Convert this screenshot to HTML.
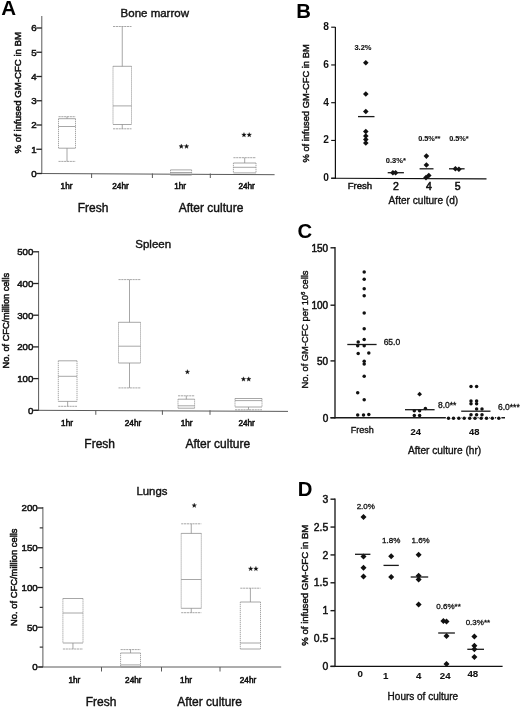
<!DOCTYPE html>
<html><head><meta charset="utf-8"><title>Figure</title>
<style>
html,body{margin:0;padding:0;background:#fff;}
body{width:520px;height:709px;overflow:hidden;font-family:'Liberation Sans', sans-serif;}
svg{display:block;filter:grayscale(1);}
svg text{font-family:"Liberation Sans", sans-serif;}
</style></head>
<body>
<svg width="520" height="709" viewBox="0 0 520 709">
<rect width="520" height="709" fill="#ffffff"/>
<text x="1.3" y="14.8" font-size="20.5" font-weight="bold" text-anchor="start" fill="#000">A</text>
<text x="296.3" y="17.6" font-size="20.3" font-weight="bold" text-anchor="start" fill="#000">B</text>
<text x="297.6" y="237.7" font-size="20.3" font-weight="bold" text-anchor="start" fill="#000">C</text>
<text x="297.8" y="495.8" font-size="20.3" font-weight="bold" text-anchor="start" fill="#000">D</text>
<text x="154.8" y="17.0" font-size="11.5" font-weight="normal" text-anchor="middle" fill="#111" stroke="#111" stroke-width="0.4">Bone marrow</text>
<line x1="41.8" y1="16" x2="41.8" y2="173.5" stroke="#5a5a5a" stroke-width="1"/>
<line x1="37.8" y1="173.5" x2="274.6" y2="174.7" stroke="#5a5a5a" stroke-width="1"/>
<line x1="36.3" y1="173.5" x2="41.8" y2="173.5" stroke="#222" stroke-width="1.3"/>
<text x="36.599999999999994" y="176.9" font-size="9.7" font-weight="normal" text-anchor="end" fill="#111" stroke="#111" stroke-width="0.5">0</text>
<line x1="36.3" y1="149.25" x2="41.8" y2="149.25" stroke="#222" stroke-width="1.3"/>
<text x="36.599999999999994" y="152.65" font-size="9.7" font-weight="normal" text-anchor="end" fill="#111" stroke="#111" stroke-width="0.5">1</text>
<line x1="36.3" y1="125.0" x2="41.8" y2="125.0" stroke="#222" stroke-width="1.3"/>
<text x="36.599999999999994" y="128.4" font-size="9.7" font-weight="normal" text-anchor="end" fill="#111" stroke="#111" stroke-width="0.5">2</text>
<line x1="36.3" y1="100.75" x2="41.8" y2="100.75" stroke="#222" stroke-width="1.3"/>
<text x="36.599999999999994" y="104.15" font-size="9.7" font-weight="normal" text-anchor="end" fill="#111" stroke="#111" stroke-width="0.5">3</text>
<line x1="36.3" y1="76.5" x2="41.8" y2="76.5" stroke="#222" stroke-width="1.3"/>
<text x="36.599999999999994" y="79.9" font-size="9.7" font-weight="normal" text-anchor="end" fill="#111" stroke="#111" stroke-width="0.5">4</text>
<line x1="36.3" y1="52.25" x2="41.8" y2="52.25" stroke="#222" stroke-width="1.3"/>
<text x="36.599999999999994" y="55.65" font-size="9.7" font-weight="normal" text-anchor="end" fill="#111" stroke="#111" stroke-width="0.5">5</text>
<line x1="36.3" y1="28.0" x2="41.8" y2="28.0" stroke="#222" stroke-width="1.3"/>
<text x="36.599999999999994" y="31.4" font-size="9.7" font-weight="normal" text-anchor="end" fill="#111" stroke="#111" stroke-width="0.5">6</text>
<line x1="91.6" y1="173.5" x2="91.6" y2="178.0" stroke="#5a5a5a" stroke-width="1"/>
<line x1="152.4" y1="173.5" x2="152.4" y2="178.0" stroke="#5a5a5a" stroke-width="1"/>
<line x1="210.3" y1="173.5" x2="210.3" y2="178.0" stroke="#5a5a5a" stroke-width="1"/>
<text x="21.2" y="92.7" font-size="9.65" font-weight="normal" text-anchor="middle" fill="#111" stroke="#111" stroke-width="0.5" transform="rotate(-90 21.2 92.7)">% of infused GM-CFC in BM</text>
<line x1="58.5" y1="118.7" x2="75.5" y2="118.7" stroke="#8a8a8a" stroke-width="0.75"/>
<line x1="58.5" y1="148.2" x2="75.5" y2="148.2" stroke="#8a8a8a" stroke-width="0.75"/>
<line x1="58.5" y1="118.7" x2="58.5" y2="148.2" stroke="#8a8a8a" stroke-width="0.75" stroke-dasharray="1.3 0.7"/>
<line x1="75.5" y1="118.7" x2="75.5" y2="148.2" stroke="#8a8a8a" stroke-width="0.75" stroke-dasharray="1.3 0.7"/>
<line x1="58.5" y1="126.5" x2="75.5" y2="126.5" stroke="#8a8a8a" stroke-width="0.75"/>
<line x1="67.0" y1="116.7" x2="67.0" y2="118.7" stroke="#8a8a8a" stroke-width="0.75"/>
<line x1="58.5" y1="116.7" x2="75.5" y2="116.7" stroke="#8a8a8a" stroke-width="0.75" stroke-dasharray="2.2 0.6"/>
<line x1="67.0" y1="148.2" x2="67.0" y2="161.4" stroke="#8a8a8a" stroke-width="0.75"/>
<line x1="58.5" y1="161.4" x2="75.5" y2="161.4" stroke="#8a8a8a" stroke-width="0.75" stroke-dasharray="2.2 0.6"/>
<line x1="113" y1="66.3" x2="131.5" y2="66.3" stroke="#8a8a8a" stroke-width="0.75"/>
<line x1="113" y1="124.5" x2="131.5" y2="124.5" stroke="#8a8a8a" stroke-width="0.75"/>
<line x1="113" y1="66.3" x2="113" y2="124.5" stroke="#8a8a8a" stroke-width="0.75" stroke-dasharray="1.3 0.7"/>
<line x1="131.5" y1="66.3" x2="131.5" y2="124.5" stroke="#8a8a8a" stroke-width="0.75" stroke-dasharray="1.3 0.7"/>
<line x1="113" y1="105.9" x2="131.5" y2="105.9" stroke="#8a8a8a" stroke-width="0.75"/>
<line x1="122.25" y1="26.5" x2="122.25" y2="66.3" stroke="#8a8a8a" stroke-width="0.75"/>
<line x1="113" y1="26.5" x2="131.5" y2="26.5" stroke="#8a8a8a" stroke-width="0.75" stroke-dasharray="2.2 0.6"/>
<line x1="122.25" y1="124.5" x2="122.25" y2="128.8" stroke="#8a8a8a" stroke-width="0.75"/>
<line x1="113" y1="128.8" x2="131.5" y2="128.8" stroke="#8a8a8a" stroke-width="0.75" stroke-dasharray="2.2 0.6"/>
<line x1="170.5" y1="169.9" x2="191.6" y2="169.9" stroke="#8a8a8a" stroke-width="0.75"/>
<line x1="170.5" y1="175.1" x2="191.6" y2="175.1" stroke="#8a8a8a" stroke-width="0.75"/>
<line x1="170.5" y1="169.9" x2="170.5" y2="175.1" stroke="#8a8a8a" stroke-width="0.75" stroke-dasharray="1.3 0.7"/>
<line x1="191.6" y1="169.9" x2="191.6" y2="175.1" stroke="#8a8a8a" stroke-width="0.75" stroke-dasharray="1.3 0.7"/>
<line x1="170.5" y1="172.5" x2="191.6" y2="172.5" stroke="#8a8a8a" stroke-width="0.75"/>
<line x1="233.4" y1="163.0" x2="256.0" y2="163.0" stroke="#8a8a8a" stroke-width="0.75"/>
<line x1="233.4" y1="172.9" x2="256.0" y2="172.9" stroke="#8a8a8a" stroke-width="0.75"/>
<line x1="233.4" y1="163.0" x2="233.4" y2="172.9" stroke="#8a8a8a" stroke-width="0.75" stroke-dasharray="1.3 0.7"/>
<line x1="256.0" y1="163.0" x2="256.0" y2="172.9" stroke="#8a8a8a" stroke-width="0.75" stroke-dasharray="1.3 0.7"/>
<line x1="233.4" y1="167.3" x2="256.0" y2="167.3" stroke="#8a8a8a" stroke-width="0.75"/>
<line x1="244.7" y1="157.7" x2="244.7" y2="163.0" stroke="#8a8a8a" stroke-width="0.75"/>
<line x1="233.4" y1="157.7" x2="256.0" y2="157.7" stroke="#8a8a8a" stroke-width="0.75" stroke-dasharray="2.2 0.6"/>
<polygon points="181.28,143.95 181.89,145.55 183.61,145.64 182.27,146.72 182.72,148.38 181.28,147.45 179.83,148.38 180.28,146.72 178.94,145.64 180.66,145.55" fill="#111" stroke="#111" stroke-width="0.25" stroke-linejoin="round"/>
<polygon points="186.53,143.95 187.14,145.55 188.86,145.64 187.52,146.72 187.97,148.38 186.53,147.45 185.08,148.38 185.53,146.72 184.19,145.64 185.91,145.55" fill="#111" stroke="#111" stroke-width="0.25" stroke-linejoin="round"/>
<polygon points="243.97,132.45 244.59,134.05 246.31,134.14 244.97,135.22 245.42,136.88 243.97,135.95 242.53,136.88 242.98,135.22 241.64,134.14 243.36,134.05" fill="#111" stroke="#111" stroke-width="0.25" stroke-linejoin="round"/>
<polygon points="249.22,132.45 249.84,134.05 251.56,134.14 250.22,135.22 250.67,136.88 249.22,135.95 247.78,136.88 248.23,135.22 246.89,134.14 248.61,134.05" fill="#111" stroke="#111" stroke-width="0.25" stroke-linejoin="round"/>
<text x="66.5" y="189.0" font-size="8.2" font-weight="normal" text-anchor="middle" fill="#111" stroke="#111" stroke-width="0.55">1hr</text>
<text x="120.5" y="189.0" font-size="8.2" font-weight="normal" text-anchor="middle" fill="#111" stroke="#111" stroke-width="0.55">24hr</text>
<text x="180.2" y="189.0" font-size="8.2" font-weight="normal" text-anchor="middle" fill="#111" stroke="#111" stroke-width="0.55">1hr</text>
<text x="246.6" y="189.0" font-size="8.2" font-weight="normal" text-anchor="middle" fill="#111" stroke="#111" stroke-width="0.55">24hr</text>
<text x="93" y="211.5" font-size="12" font-weight="normal" text-anchor="middle" fill="#111" stroke="#111" stroke-width="0.4">Fresh</text>
<text x="211" y="212" font-size="12" font-weight="normal" text-anchor="middle" fill="#111" stroke="#111" stroke-width="0.4">After culture</text>
<text x="153.2" y="248.4" font-size="11.5" font-weight="normal" text-anchor="middle" fill="#111" stroke="#111" stroke-width="0.4">Spleen</text>
<line x1="38.6" y1="251" x2="38.6" y2="410.3" stroke="#5a5a5a" stroke-width="1"/>
<line x1="34.6" y1="410.3" x2="288" y2="411.40000000000003" stroke="#5a5a5a" stroke-width="1"/>
<line x1="33.1" y1="410.3" x2="38.6" y2="410.3" stroke="#222" stroke-width="1.3"/>
<text x="33.4" y="413.7" font-size="9.7" font-weight="normal" text-anchor="end" fill="#111" stroke="#111" stroke-width="0.5">0</text>
<line x1="33.1" y1="378.6" x2="38.6" y2="378.6" stroke="#222" stroke-width="1.3"/>
<text x="33.4" y="382.0" font-size="9.7" font-weight="normal" text-anchor="end" fill="#111" stroke="#111" stroke-width="0.5">100</text>
<line x1="33.1" y1="346.90000000000003" x2="38.6" y2="346.90000000000003" stroke="#222" stroke-width="1.3"/>
<text x="33.4" y="350.3" font-size="9.7" font-weight="normal" text-anchor="end" fill="#111" stroke="#111" stroke-width="0.5">200</text>
<line x1="33.1" y1="315.20000000000005" x2="38.6" y2="315.20000000000005" stroke="#222" stroke-width="1.3"/>
<text x="33.4" y="318.6" font-size="9.7" font-weight="normal" text-anchor="end" fill="#111" stroke="#111" stroke-width="0.5">300</text>
<line x1="33.1" y1="283.5" x2="38.6" y2="283.5" stroke="#222" stroke-width="1.3"/>
<text x="33.4" y="286.9" font-size="9.7" font-weight="normal" text-anchor="end" fill="#111" stroke="#111" stroke-width="0.5">400</text>
<line x1="33.1" y1="251.8" x2="38.6" y2="251.8" stroke="#222" stroke-width="1.3"/>
<text x="33.4" y="255.20000000000002" font-size="9.7" font-weight="normal" text-anchor="end" fill="#111" stroke="#111" stroke-width="0.5">500</text>
<line x1="95.8" y1="410.3" x2="95.8" y2="414.8" stroke="#5a5a5a" stroke-width="1"/>
<line x1="162.4" y1="410.3" x2="162.4" y2="414.8" stroke="#5a5a5a" stroke-width="1"/>
<line x1="210" y1="410.3" x2="210" y2="414.8" stroke="#5a5a5a" stroke-width="1"/>
<text x="9.2" y="320.7" font-size="9.2" font-weight="normal" text-anchor="middle" fill="#111" stroke="#111" stroke-width="0.5" transform="rotate(-90 9.2 320.7)">No. of CFC/million cells</text>
<line x1="58.3" y1="360.8" x2="77" y2="360.8" stroke="#8a8a8a" stroke-width="0.75"/>
<line x1="58.3" y1="401.4" x2="77" y2="401.4" stroke="#8a8a8a" stroke-width="0.75"/>
<line x1="58.3" y1="360.8" x2="58.3" y2="401.4" stroke="#8a8a8a" stroke-width="0.75" stroke-dasharray="1.3 0.7"/>
<line x1="77" y1="360.8" x2="77" y2="401.4" stroke="#8a8a8a" stroke-width="0.75" stroke-dasharray="1.3 0.7"/>
<line x1="58.3" y1="376.3" x2="77" y2="376.3" stroke="#8a8a8a" stroke-width="0.75"/>
<line x1="67.65" y1="401.4" x2="67.65" y2="406.3" stroke="#8a8a8a" stroke-width="0.75"/>
<line x1="58.3" y1="406.3" x2="77" y2="406.3" stroke="#8a8a8a" stroke-width="0.75" stroke-dasharray="2.2 0.6"/>
<line x1="118.5" y1="322.3" x2="140.5" y2="322.3" stroke="#8a8a8a" stroke-width="0.75"/>
<line x1="118.5" y1="363" x2="140.5" y2="363" stroke="#8a8a8a" stroke-width="0.75"/>
<line x1="118.5" y1="322.3" x2="118.5" y2="363" stroke="#8a8a8a" stroke-width="0.75" stroke-dasharray="1.3 0.7"/>
<line x1="140.5" y1="322.3" x2="140.5" y2="363" stroke="#8a8a8a" stroke-width="0.75" stroke-dasharray="1.3 0.7"/>
<line x1="118.5" y1="346.2" x2="140.5" y2="346.2" stroke="#8a8a8a" stroke-width="0.75"/>
<line x1="129.5" y1="279.6" x2="129.5" y2="322.3" stroke="#8a8a8a" stroke-width="0.75"/>
<line x1="118.5" y1="279.6" x2="140.5" y2="279.6" stroke="#8a8a8a" stroke-width="0.75" stroke-dasharray="2.2 0.6"/>
<line x1="129.5" y1="363" x2="129.5" y2="387.9" stroke="#8a8a8a" stroke-width="0.75"/>
<line x1="118.5" y1="387.9" x2="140.5" y2="387.9" stroke="#8a8a8a" stroke-width="0.75" stroke-dasharray="2.2 0.6"/>
<line x1="178" y1="399.2" x2="194.6" y2="399.2" stroke="#8a8a8a" stroke-width="0.75"/>
<line x1="178" y1="408.2" x2="194.6" y2="408.2" stroke="#8a8a8a" stroke-width="0.75"/>
<line x1="178" y1="399.2" x2="178" y2="408.2" stroke="#8a8a8a" stroke-width="0.75" stroke-dasharray="1.3 0.7"/>
<line x1="194.6" y1="399.2" x2="194.6" y2="408.2" stroke="#8a8a8a" stroke-width="0.75" stroke-dasharray="1.3 0.7"/>
<line x1="178" y1="405.8" x2="194.6" y2="405.8" stroke="#8a8a8a" stroke-width="0.75"/>
<line x1="186.3" y1="395.8" x2="186.3" y2="399.2" stroke="#8a8a8a" stroke-width="0.75"/>
<line x1="178" y1="395.8" x2="194.6" y2="395.8" stroke="#8a8a8a" stroke-width="0.75" stroke-dasharray="2.2 0.6"/>
<line x1="235" y1="398.5" x2="262" y2="398.5" stroke="#8a8a8a" stroke-width="0.75"/>
<line x1="235" y1="407" x2="262" y2="407" stroke="#8a8a8a" stroke-width="0.75"/>
<line x1="235" y1="398.5" x2="235" y2="407" stroke="#8a8a8a" stroke-width="0.75" stroke-dasharray="1.3 0.7"/>
<line x1="262" y1="398.5" x2="262" y2="407" stroke="#8a8a8a" stroke-width="0.75" stroke-dasharray="1.3 0.7"/>
<line x1="235" y1="400.6" x2="262" y2="400.6" stroke="#8a8a8a" stroke-width="0.75"/>
<line x1="248.5" y1="407" x2="248.5" y2="409.8" stroke="#8a8a8a" stroke-width="0.75"/>
<line x1="235" y1="409.8" x2="262" y2="409.8" stroke="#8a8a8a" stroke-width="0.75" stroke-dasharray="2.2 0.6"/>
<polygon points="187.40,369.55 188.02,371.15 189.73,371.24 188.40,372.32 188.84,373.98 187.40,373.05 185.96,373.98 186.40,372.32 185.07,371.24 186.78,371.15" fill="#111" stroke="#111" stroke-width="0.25" stroke-linejoin="round"/>
<polygon points="243.47,376.75 244.09,378.35 245.81,378.44 244.47,379.52 244.92,381.18 243.47,380.25 242.03,381.18 242.48,379.52 241.14,378.44 242.86,378.35" fill="#111" stroke="#111" stroke-width="0.25" stroke-linejoin="round"/>
<polygon points="248.72,376.75 249.34,378.35 251.06,378.44 249.72,379.52 250.17,381.18 248.72,380.25 247.28,381.18 247.73,379.52 246.39,378.44 248.11,378.35" fill="#111" stroke="#111" stroke-width="0.25" stroke-linejoin="round"/>
<text x="67" y="425.6" font-size="8.2" font-weight="normal" text-anchor="middle" fill="#111" stroke="#111" stroke-width="0.55">1hr</text>
<text x="133" y="425.6" font-size="8.2" font-weight="normal" text-anchor="middle" fill="#111" stroke="#111" stroke-width="0.55">24hr</text>
<text x="186.6" y="425.6" font-size="8.2" font-weight="normal" text-anchor="middle" fill="#111" stroke="#111" stroke-width="0.55">1hr</text>
<text x="246.6" y="425.6" font-size="8.2" font-weight="normal" text-anchor="middle" fill="#111" stroke="#111" stroke-width="0.55">24hr</text>
<text x="99.7" y="448" font-size="12" font-weight="normal" text-anchor="middle" fill="#111" stroke="#111" stroke-width="0.4">Fresh</text>
<text x="217.8" y="448.2" font-size="12" font-weight="normal" text-anchor="middle" fill="#111" stroke="#111" stroke-width="0.4">After culture</text>
<text x="151.9" y="494.9" font-size="11.4" font-weight="normal" text-anchor="middle" fill="#111" stroke="#111" stroke-width="0.4">Lungs</text>
<line x1="42.9" y1="507" x2="42.9" y2="667" stroke="#5a5a5a" stroke-width="1"/>
<line x1="38.9" y1="667" x2="281.2" y2="667" stroke="#5a5a5a" stroke-width="1"/>
<line x1="37.4" y1="667.0" x2="42.9" y2="667.0" stroke="#222" stroke-width="1.3"/>
<text x="37.699999999999996" y="670.4" font-size="9.7" font-weight="normal" text-anchor="end" fill="#111" stroke="#111" stroke-width="0.5">0</text>
<line x1="37.4" y1="627.25" x2="42.9" y2="627.25" stroke="#222" stroke-width="1.3"/>
<text x="37.699999999999996" y="630.65" font-size="9.7" font-weight="normal" text-anchor="end" fill="#111" stroke="#111" stroke-width="0.5">50</text>
<line x1="37.4" y1="587.5" x2="42.9" y2="587.5" stroke="#222" stroke-width="1.3"/>
<text x="37.699999999999996" y="590.9" font-size="9.7" font-weight="normal" text-anchor="end" fill="#111" stroke="#111" stroke-width="0.5">100</text>
<line x1="37.4" y1="547.75" x2="42.9" y2="547.75" stroke="#222" stroke-width="1.3"/>
<text x="37.699999999999996" y="551.15" font-size="9.7" font-weight="normal" text-anchor="end" fill="#111" stroke="#111" stroke-width="0.5">150</text>
<line x1="37.4" y1="508.0" x2="42.9" y2="508.0" stroke="#222" stroke-width="1.3"/>
<text x="37.699999999999996" y="511.4" font-size="9.7" font-weight="normal" text-anchor="end" fill="#111" stroke="#111" stroke-width="0.5">200</text>
<line x1="39.699999999999996" y1="647.125" x2="42.9" y2="647.125" stroke="#333" stroke-width="1.2"/>
<line x1="39.699999999999996" y1="607.375" x2="42.9" y2="607.375" stroke="#333" stroke-width="1.2"/>
<line x1="39.699999999999996" y1="567.625" x2="42.9" y2="567.625" stroke="#333" stroke-width="1.2"/>
<line x1="39.699999999999996" y1="527.875" x2="42.9" y2="527.875" stroke="#333" stroke-width="1.2"/>
<line x1="101.5" y1="667" x2="101.5" y2="671.5" stroke="#5a5a5a" stroke-width="1"/>
<line x1="161.5" y1="667" x2="161.5" y2="671.5" stroke="#5a5a5a" stroke-width="1"/>
<line x1="220" y1="667" x2="220" y2="671.5" stroke="#5a5a5a" stroke-width="1"/>
<text x="17.4" y="577.2" font-size="9.4" font-weight="normal" text-anchor="middle" fill="#111" stroke="#111" stroke-width="0.5" transform="rotate(-90 17.4 577.2)">No. of CFC/million cells</text>
<line x1="62.9" y1="598.5" x2="83" y2="598.5" stroke="#8a8a8a" stroke-width="0.75"/>
<line x1="62.9" y1="643" x2="83" y2="643" stroke="#8a8a8a" stroke-width="0.75"/>
<line x1="62.9" y1="598.5" x2="62.9" y2="643" stroke="#8a8a8a" stroke-width="0.75" stroke-dasharray="1.3 0.7"/>
<line x1="83" y1="598.5" x2="83" y2="643" stroke="#8a8a8a" stroke-width="0.75" stroke-dasharray="1.3 0.7"/>
<line x1="62.9" y1="613" x2="83" y2="613" stroke="#8a8a8a" stroke-width="0.75"/>
<line x1="72.95" y1="643" x2="72.95" y2="649" stroke="#8a8a8a" stroke-width="0.75"/>
<line x1="62.9" y1="649" x2="83" y2="649" stroke="#8a8a8a" stroke-width="0.75" stroke-dasharray="2.2 0.6"/>
<line x1="120.6" y1="653" x2="140.5" y2="653" stroke="#8a8a8a" stroke-width="0.75"/>
<line x1="120.6" y1="667" x2="140.5" y2="667" stroke="#8a8a8a" stroke-width="0.75"/>
<line x1="120.6" y1="653" x2="120.6" y2="667" stroke="#8a8a8a" stroke-width="0.75" stroke-dasharray="1.3 0.7"/>
<line x1="140.5" y1="653" x2="140.5" y2="667" stroke="#8a8a8a" stroke-width="0.75" stroke-dasharray="1.3 0.7"/>
<line x1="120.6" y1="664.9" x2="140.5" y2="664.9" stroke="#8a8a8a" stroke-width="0.75"/>
<line x1="130.55" y1="649.6" x2="130.55" y2="653" stroke="#8a8a8a" stroke-width="0.75"/>
<line x1="120.6" y1="649.6" x2="140.5" y2="649.6" stroke="#8a8a8a" stroke-width="0.75" stroke-dasharray="2.2 0.6"/>
<line x1="181.2" y1="533.4" x2="201.3" y2="533.4" stroke="#8a8a8a" stroke-width="0.75"/>
<line x1="181.2" y1="608.3" x2="201.3" y2="608.3" stroke="#8a8a8a" stroke-width="0.75"/>
<line x1="181.2" y1="533.4" x2="181.2" y2="608.3" stroke="#8a8a8a" stroke-width="0.75" stroke-dasharray="1.3 0.7"/>
<line x1="201.3" y1="533.4" x2="201.3" y2="608.3" stroke="#8a8a8a" stroke-width="0.75" stroke-dasharray="1.3 0.7"/>
<line x1="181.2" y1="579.5" x2="201.3" y2="579.5" stroke="#8a8a8a" stroke-width="0.75"/>
<line x1="191.25" y1="523.8" x2="191.25" y2="533.4" stroke="#8a8a8a" stroke-width="0.75"/>
<line x1="181.2" y1="523.8" x2="201.3" y2="523.8" stroke="#8a8a8a" stroke-width="0.75" stroke-dasharray="2.2 0.6"/>
<line x1="191.25" y1="608.3" x2="191.25" y2="612.7" stroke="#8a8a8a" stroke-width="0.75"/>
<line x1="181.2" y1="612.7" x2="201.3" y2="612.7" stroke="#8a8a8a" stroke-width="0.75" stroke-dasharray="2.2 0.6"/>
<line x1="240.3" y1="602" x2="260.5" y2="602" stroke="#8a8a8a" stroke-width="0.75"/>
<line x1="240.3" y1="649" x2="260.5" y2="649" stroke="#8a8a8a" stroke-width="0.75"/>
<line x1="240.3" y1="602" x2="240.3" y2="649" stroke="#8a8a8a" stroke-width="0.75" stroke-dasharray="1.3 0.7"/>
<line x1="260.5" y1="602" x2="260.5" y2="649" stroke="#8a8a8a" stroke-width="0.75" stroke-dasharray="1.3 0.7"/>
<line x1="240.3" y1="643" x2="260.5" y2="643" stroke="#8a8a8a" stroke-width="0.75"/>
<line x1="250.4" y1="588.2" x2="250.4" y2="602" stroke="#8a8a8a" stroke-width="0.75"/>
<line x1="240.3" y1="588.2" x2="260.5" y2="588.2" stroke="#8a8a8a" stroke-width="0.75" stroke-dasharray="2.2 0.6"/>
<polygon points="194.25,503.05 194.87,504.65 196.58,504.74 195.25,505.82 195.69,507.48 194.25,506.55 192.81,507.48 193.25,505.82 191.92,504.74 193.63,504.65" fill="#111" stroke="#111" stroke-width="0.25" stroke-linejoin="round"/>
<polygon points="250.68,566.35 251.29,567.95 253.01,568.04 251.67,569.12 252.12,570.78 250.68,569.85 249.23,570.78 249.68,569.12 248.34,568.04 250.06,567.95" fill="#111" stroke="#111" stroke-width="0.25" stroke-linejoin="round"/>
<polygon points="255.93,566.35 256.54,567.95 258.26,568.04 256.92,569.12 257.37,570.78 255.93,569.85 254.48,570.78 254.93,569.12 253.59,568.04 255.31,567.95" fill="#111" stroke="#111" stroke-width="0.25" stroke-linejoin="round"/>
<text x="74.4" y="682.6" font-size="8.2" font-weight="normal" text-anchor="middle" fill="#111" stroke="#111" stroke-width="0.55">1hr</text>
<text x="133.3" y="682.6" font-size="8.2" font-weight="normal" text-anchor="middle" fill="#111" stroke="#111" stroke-width="0.55">24hr</text>
<text x="186" y="682.6" font-size="8.2" font-weight="normal" text-anchor="middle" fill="#111" stroke="#111" stroke-width="0.55">1hr</text>
<text x="248" y="682.6" font-size="8.2" font-weight="normal" text-anchor="middle" fill="#111" stroke="#111" stroke-width="0.55">24hr</text>
<text x="101" y="706" font-size="12" font-weight="normal" text-anchor="middle" fill="#111" stroke="#111" stroke-width="0.4">Fresh</text>
<text x="209.7" y="706" font-size="12" font-weight="normal" text-anchor="middle" fill="#111" stroke="#111" stroke-width="0.4">After culture</text>
<line x1="335.4" y1="27" x2="335.4" y2="178.75" stroke="#111" stroke-width="1.2"/>
<line x1="331.2" y1="178.2" x2="486.5" y2="178.79999999999998" stroke="#111" stroke-width="1.15"/>
<line x1="331.2" y1="178.2" x2="335.4" y2="178.2" stroke="#111" stroke-width="1.15"/>
<text x="328.9" y="181.2" font-size="10.2" font-weight="bold" text-anchor="end" fill="#111">0</text>
<line x1="331.2" y1="140.45" x2="335.4" y2="140.45" stroke="#111" stroke-width="1.15"/>
<text x="328.9" y="143.45" font-size="10.2" font-weight="bold" text-anchor="end" fill="#111">2</text>
<line x1="331.2" y1="102.69999999999999" x2="335.4" y2="102.69999999999999" stroke="#111" stroke-width="1.15"/>
<text x="328.9" y="105.69999999999999" font-size="10.2" font-weight="bold" text-anchor="end" fill="#111">4</text>
<line x1="331.2" y1="64.94999999999999" x2="335.4" y2="64.94999999999999" stroke="#111" stroke-width="1.15"/>
<text x="328.9" y="67.94999999999999" font-size="10.2" font-weight="bold" text-anchor="end" fill="#111">6</text>
<line x1="331.2" y1="27.19999999999999" x2="335.4" y2="27.19999999999999" stroke="#111" stroke-width="1.15"/>
<text x="328.9" y="30.19999999999999" font-size="10.2" font-weight="bold" text-anchor="end" fill="#111">8</text>
<text x="309.2" y="103.4" font-size="9.4" font-weight="normal" text-anchor="middle" fill="#111" stroke="#111" stroke-width="0.45" transform="rotate(-90 309.2 103.4)">% of infused GM-CFC in BM</text>
<path d="M363.0,62.8 L365.8,60.0 L368.6,62.8 L365.8,65.6 Z" fill="#111"/>
<path d="M363.0,94 L365.8,91.2 L368.6,94 L365.8,96.8 Z" fill="#111"/>
<path d="M363.0,111.5 L365.8,108.7 L368.6,111.5 L365.8,114.3 Z" fill="#111"/>
<path d="M363.0,131.5 L365.8,128.7 L368.6,131.5 L365.8,134.3 Z" fill="#111"/>
<path d="M363.0,136 L365.8,133.2 L368.6,136 L365.8,138.8 Z" fill="#111"/>
<path d="M363.0,139.5 L365.8,136.7 L368.6,139.5 L365.8,142.3 Z" fill="#111"/>
<path d="M363.0,143 L365.8,140.2 L368.6,143 L365.8,145.8 Z" fill="#111"/>
<line x1="358" y1="116.6" x2="374.5" y2="116.6" stroke="#1a1a1a" stroke-width="1.3"/>
<text x="363" y="49.7" font-size="7.5" font-weight="bold" text-anchor="middle" fill="#111" stroke="#111" stroke-width="0.1">3.2%</text>
<path d="M390.09999999999997,172.7 L392.9,169.89999999999998 L395.7,172.7 L392.9,175.5 Z" fill="#111"/>
<path d="M392.8,172.7 L395.6,169.89999999999998 L398.40000000000003,172.7 L395.6,175.5 Z" fill="#111"/>
<line x1="387.7" y1="172.7" x2="403.9" y2="172.7" stroke="#1a1a1a" stroke-width="1.3"/>
<text x="395.8" y="162.8" font-size="7.5" font-weight="bold" text-anchor="middle" fill="#111" stroke="#111" stroke-width="0.1">0.3%*</text>
<path d="M423.59999999999997,156.1 L426.4,153.29999999999998 L429.2,156.1 L426.4,158.9 Z" fill="#111"/>
<path d="M423.59999999999997,165.0 L426.4,162.2 L429.2,165.0 L426.4,167.8 Z" fill="#111"/>
<path d="M426.0,175.5 L428.8,172.7 L431.6,175.5 L428.8,178.3 Z" fill="#111"/>
<path d="M423.2,177.6 L426,174.79999999999998 L428.8,177.6 L426,180.4 Z" fill="#111"/>
<line x1="419.6" y1="168.8" x2="433.5" y2="168.8" stroke="#1a1a1a" stroke-width="1.3"/>
<text x="429.3" y="141" font-size="7.3" font-weight="bold" text-anchor="middle" fill="#111" stroke="#111" stroke-width="0.1">0.5%**</text>
<path d="M452.59999999999997,168.8 L455.4,166.0 L458.2,168.8 L455.4,171.60000000000002 Z" fill="#111"/>
<path d="M456.09999999999997,169.2 L458.9,166.39999999999998 L461.7,169.2 L458.9,172.0 Z" fill="#111"/>
<line x1="449" y1="168.8" x2="464.6" y2="168.8" stroke="#1a1a1a" stroke-width="1.3"/>
<text x="458.9" y="141" font-size="7.3" font-weight="bold" text-anchor="middle" fill="#111" stroke="#111" stroke-width="0.1">0.5%*</text>
<text x="359.9" y="189.1" font-size="9.6" font-weight="normal" text-anchor="middle" fill="#111" stroke="#111" stroke-width="0.45">Fresh</text>
<text x="395.8" y="190.4" font-size="10.5" font-weight="normal" text-anchor="middle" fill="#111" stroke="#111" stroke-width="0.55">2</text>
<text x="428.8" y="190.4" font-size="10.5" font-weight="normal" text-anchor="middle" fill="#111" stroke="#111" stroke-width="0.55">4</text>
<text x="457.7" y="190.4" font-size="10.5" font-weight="normal" text-anchor="middle" fill="#111" stroke="#111" stroke-width="0.55">5</text>
<text x="423.4" y="203.6" font-size="10.1" font-weight="normal" text-anchor="middle" fill="#111" stroke="#111" stroke-width="0.35">After culture (d)</text>
<line x1="335" y1="247" x2="335" y2="418.4" stroke="#1a1a1a" stroke-width="1.35"/>
<line x1="330.5" y1="417.7" x2="505" y2="417.7" stroke="#1a1a1a" stroke-width="1.5"/>
<line x1="330.5" y1="417.7" x2="335" y2="417.7" stroke="#1a1a1a" stroke-width="1.4"/>
<text x="328.2" y="421.7" font-size="10" font-weight="normal" text-anchor="end" fill="#111" stroke="#111" stroke-width="0.5">0</text>
<line x1="330.5" y1="360.9" x2="335" y2="360.9" stroke="#1a1a1a" stroke-width="1.4"/>
<text x="328.2" y="364.9" font-size="10" font-weight="normal" text-anchor="end" fill="#111" stroke="#111" stroke-width="0.5">50</text>
<line x1="330.5" y1="305.2" x2="335" y2="305.2" stroke="#1a1a1a" stroke-width="1.4"/>
<text x="328.2" y="309.2" font-size="10" font-weight="normal" text-anchor="end" fill="#111" stroke="#111" stroke-width="0.5">100</text>
<line x1="330.5" y1="247.8" x2="335" y2="247.8" stroke="#1a1a1a" stroke-width="1.4"/>
<text x="328.2" y="251.8" font-size="10" font-weight="normal" text-anchor="end" fill="#111" stroke="#111" stroke-width="0.5">150</text>
<text x="308.3" y="329.5" font-size="9.3" text-anchor="middle" fill="#111" stroke="#111" stroke-width="0.4" transform="rotate(-90 308.3 329.5)">No. of GM-CFC per 10<tspan font-size="6" dy="-3">6</tspan><tspan dy="3"> cells</tspan></text>
<circle cx="364.2" cy="272" r="1.75" fill="#111"/>
<circle cx="364.2" cy="279.2" r="1.75" fill="#111"/>
<circle cx="364.2" cy="288.8" r="1.75" fill="#111"/>
<circle cx="364.2" cy="295.8" r="1.75" fill="#111"/>
<circle cx="364.2" cy="313" r="1.75" fill="#111"/>
<circle cx="364.2" cy="328.8" r="1.75" fill="#111"/>
<circle cx="364.2" cy="339.4" r="1.75" fill="#111"/>
<circle cx="358.2" cy="342" r="1.75" fill="#111"/>
<circle cx="357.7" cy="345.7" r="1.75" fill="#111"/>
<circle cx="364.2" cy="345.7" r="1.75" fill="#111"/>
<circle cx="358.2" cy="353.5" r="1.75" fill="#111"/>
<circle cx="368.8" cy="353" r="1.75" fill="#111"/>
<circle cx="364.2" cy="361.2" r="1.75" fill="#111"/>
<circle cx="364.2" cy="364" r="1.75" fill="#111"/>
<circle cx="364.2" cy="376.2" r="1.75" fill="#111"/>
<circle cx="357.7" cy="392.8" r="1.75" fill="#111"/>
<circle cx="364.2" cy="399.7" r="1.75" fill="#111"/>
<circle cx="357.7" cy="415" r="1.75" fill="#111"/>
<circle cx="363.5" cy="415" r="1.75" fill="#111"/>
<circle cx="368.8" cy="414.4" r="1.75" fill="#111"/>
<line x1="347.3" y1="344.5" x2="376.6" y2="344.5" stroke="#1a1a1a" stroke-width="1.3"/>
<text x="391.9" y="345.3" font-size="8.5" font-weight="normal" text-anchor="middle" fill="#111" stroke="#111" stroke-width="0.3">65.0</text>
<path d="M417.20000000000005,394.2 L419.6,391.8 L422.0,394.2 L419.6,396.59999999999997 Z" fill="#111"/>
<circle cx="425.4" cy="408.5" r="1.75" fill="#111"/>
<circle cx="414.3" cy="410.8" r="1.75" fill="#111"/>
<circle cx="419.6" cy="410.8" r="1.75" fill="#111"/>
<circle cx="414.3" cy="415.4" r="1.75" fill="#111"/>
<circle cx="419.6" cy="415.4" r="1.75" fill="#111"/>
<line x1="405" y1="409.7" x2="434.6" y2="409.7" stroke="#1a1a1a" stroke-width="1.3"/>
<text x="438" y="408" font-size="8.5" font-weight="normal" text-anchor="start" fill="#111" stroke="#111" stroke-width="0.3">8.0**</text>
<circle cx="448.5" cy="418.2" r="2.7" fill="#fff"/>
<circle cx="453.5" cy="418.2" r="2.7" fill="#fff"/>
<circle cx="458.8" cy="418.2" r="2.7" fill="#fff"/>
<circle cx="464.2" cy="418.2" r="2.7" fill="#fff"/>
<circle cx="469.7" cy="418.2" r="2.7" fill="#fff"/>
<circle cx="475" cy="418.2" r="2.7" fill="#fff"/>
<circle cx="481.2" cy="418.2" r="2.7" fill="#fff"/>
<circle cx="486.5" cy="418.2" r="2.7" fill="#fff"/>
<circle cx="492.3" cy="418.2" r="2.7" fill="#fff"/>
<circle cx="498.8" cy="418.2" r="2.7" fill="#fff"/>
<circle cx="471" cy="386.5" r="1.75" fill="#111"/>
<circle cx="476.6" cy="386.5" r="1.75" fill="#111"/>
<circle cx="471" cy="401" r="1.75" fill="#111"/>
<circle cx="476.6" cy="401" r="1.75" fill="#111"/>
<circle cx="471" cy="403.8" r="1.75" fill="#111"/>
<circle cx="476.6" cy="403.8" r="1.75" fill="#111"/>
<circle cx="476.6" cy="409" r="1.75" fill="#111"/>
<circle cx="482" cy="409" r="1.75" fill="#111"/>
<circle cx="471" cy="414.7" r="1.75" fill="#111"/>
<circle cx="476.6" cy="414.7" r="1.75" fill="#111"/>
<circle cx="482" cy="414.7" r="1.75" fill="#111"/>
<circle cx="448.5" cy="418.2" r="1.75" fill="#111"/>
<circle cx="453.5" cy="418.2" r="1.75" fill="#111"/>
<circle cx="458.8" cy="418.2" r="1.75" fill="#111"/>
<circle cx="464.2" cy="418.2" r="1.75" fill="#111"/>
<circle cx="469.7" cy="418.2" r="1.75" fill="#111"/>
<circle cx="475" cy="418.2" r="1.75" fill="#111"/>
<circle cx="481.2" cy="418.2" r="1.75" fill="#111"/>
<circle cx="486.5" cy="418.2" r="1.75" fill="#111"/>
<circle cx="492.3" cy="418.2" r="1.75" fill="#111"/>
<circle cx="498.8" cy="418.2" r="1.75" fill="#111"/>
<line x1="461.2" y1="411.2" x2="490.5" y2="411.2" stroke="#1a1a1a" stroke-width="1.3"/>
<text x="498" y="410.3" font-size="8.5" font-weight="normal" text-anchor="start" fill="#111" stroke="#111" stroke-width="0.3">6.0***</text>
<text x="362.3" y="433.0" font-size="9" font-weight="normal" text-anchor="middle" fill="#111" stroke="#111" stroke-width="0.35">Fresh</text>
<text x="415.8" y="435.0" font-size="9.4" font-weight="bold" text-anchor="middle" fill="#111" stroke="#111" stroke-width="0.1">24</text>
<text x="474.2" y="435.0" font-size="9.4" font-weight="bold" text-anchor="middle" fill="#111" stroke="#111" stroke-width="0.1">48</text>
<text x="444.6" y="454.3" font-size="10.15" font-weight="normal" text-anchor="middle" fill="#111" stroke="#111" stroke-width="0.35">After culture (hr)</text>
<line x1="335" y1="498.5" x2="335" y2="667.1" stroke="#1a1a1a" stroke-width="1.35"/>
<line x1="330.5" y1="666.4" x2="502.6" y2="666.4" stroke="#111" stroke-width="1.2"/>
<line x1="330.5" y1="666.4" x2="335" y2="666.4" stroke="#1a1a1a" stroke-width="1.4"/>
<text x="328.2" y="670.0" font-size="10" font-weight="normal" text-anchor="end" fill="#111" stroke="#111" stroke-width="0.45" transform="translate(328.2 670.0) scale(1.04 1) translate(-328.2 -670.0)">0</text>
<line x1="330.5" y1="638.53" x2="335" y2="638.53" stroke="#1a1a1a" stroke-width="1.4"/>
<text x="328.2" y="642.13" font-size="10" font-weight="normal" text-anchor="end" fill="#111" stroke="#111" stroke-width="0.45" transform="translate(328.2 642.13) scale(1.04 1) translate(-328.2 -642.13)">0.5</text>
<line x1="330.5" y1="610.66" x2="335" y2="610.66" stroke="#1a1a1a" stroke-width="1.4"/>
<text x="328.2" y="614.26" font-size="10" font-weight="normal" text-anchor="end" fill="#111" stroke="#111" stroke-width="0.45" transform="translate(328.2 614.26) scale(1.04 1) translate(-328.2 -614.26)">1</text>
<line x1="330.5" y1="582.79" x2="335" y2="582.79" stroke="#1a1a1a" stroke-width="1.4"/>
<text x="328.2" y="586.39" font-size="10" font-weight="normal" text-anchor="end" fill="#111" stroke="#111" stroke-width="0.45" transform="translate(328.2 586.39) scale(1.04 1) translate(-328.2 -586.39)">1.5</text>
<line x1="330.5" y1="554.92" x2="335" y2="554.92" stroke="#1a1a1a" stroke-width="1.4"/>
<text x="328.2" y="558.52" font-size="10" font-weight="normal" text-anchor="end" fill="#111" stroke="#111" stroke-width="0.45" transform="translate(328.2 558.52) scale(1.04 1) translate(-328.2 -558.52)">2</text>
<line x1="330.5" y1="527.05" x2="335" y2="527.05" stroke="#1a1a1a" stroke-width="1.4"/>
<text x="328.2" y="530.65" font-size="10" font-weight="normal" text-anchor="end" fill="#111" stroke="#111" stroke-width="0.45" transform="translate(328.2 530.65) scale(1.04 1) translate(-328.2 -530.65)">2.5</text>
<line x1="330.5" y1="499.17999999999995" x2="335" y2="499.17999999999995" stroke="#1a1a1a" stroke-width="1.4"/>
<text x="328.2" y="502.78" font-size="10" font-weight="normal" text-anchor="end" fill="#111" stroke="#111" stroke-width="0.45" transform="translate(328.2 502.78) scale(1.04 1) translate(-328.2 -502.78)">3</text>
<text x="308.5" y="585.2" font-size="9.6" font-weight="normal" text-anchor="middle" fill="#111" stroke="#111" stroke-width="0.45" transform="rotate(-90 308.5 585.2)">% of infused GM-CFC in BM</text>
<path d="M360.5,517 L363.5,514.0 L366.5,517 L363.5,520.0 Z" fill="#111"/>
<path d="M360.5,556.6 L363.5,553.6 L366.5,556.6 L363.5,559.6 Z" fill="#111"/>
<path d="M360.5,567.7 L363.5,564.7 L366.5,567.7 L363.5,570.7 Z" fill="#111"/>
<path d="M360.5,576.5 L363.5,573.5 L366.5,576.5 L363.5,579.5 Z" fill="#111"/>
<line x1="355" y1="554.3" x2="370.4" y2="554.3" stroke="#1a1a1a" stroke-width="1.3"/>
<text x="365.8" y="508.6" font-size="8" font-weight="normal" text-anchor="middle" fill="#111" stroke="#111" stroke-width="0.3">2.0%</text>
<path d="M388.2,556.2 L391.2,553.2 L394.2,556.2 L391.2,559.2 Z" fill="#111"/>
<path d="M388.2,577 L391.2,574.0 L394.2,577 L391.2,580.0 Z" fill="#111"/>
<line x1="383.5" y1="565.4" x2="398.8" y2="565.4" stroke="#1a1a1a" stroke-width="1.3"/>
<text x="391.2" y="543.3" font-size="8" font-weight="normal" text-anchor="middle" fill="#111" stroke="#111" stroke-width="0.3">1.8%</text>
<path d="M415.6,554.8 L418.6,551.8 L421.6,554.8 L418.6,557.8 Z" fill="#111"/>
<path d="M415.6,575.8 L418.6,572.8 L421.6,575.8 L418.6,578.8 Z" fill="#111"/>
<path d="M415.6,579.4 L418.6,576.4 L421.6,579.4 L418.6,582.4 Z" fill="#111"/>
<path d="M415.6,604.4 L418.6,601.4 L421.6,604.4 L418.6,607.4 Z" fill="#111"/>
<line x1="410.7" y1="577" x2="428.2" y2="577" stroke="#1a1a1a" stroke-width="1.3"/>
<text x="420.6" y="543.3" font-size="8" font-weight="normal" text-anchor="middle" fill="#111" stroke="#111" stroke-width="0.3">1.6%</text>
<path d="M440.4,621.1 L443.4,618.1 L446.4,621.1 L443.4,624.1 Z" fill="#111"/>
<path d="M443.5,621.6 L446.5,618.6 L449.5,621.6 L446.5,624.6 Z" fill="#111"/>
<path d="M443.5,636 L446.5,633.0 L449.5,636 L446.5,639.0 Z" fill="#111"/>
<path d="M443.5,664 L446.5,661.0 L449.5,664 L446.5,667.0 Z" fill="#111"/>
<line x1="438.2" y1="633" x2="454.9" y2="633" stroke="#1a1a1a" stroke-width="1.3"/>
<text x="448.6" y="608.6" font-size="8" font-weight="normal" text-anchor="middle" fill="#111" stroke="#111" stroke-width="0.3">0.6%**</text>
<path d="M471.4,636.6 L474.4,633.6 L477.4,636.6 L474.4,639.6 Z" fill="#111"/>
<path d="M471.4,645.7 L474.4,642.7 L477.4,645.7 L474.4,648.7 Z" fill="#111"/>
<path d="M471.4,649.3 L474.4,646.3 L477.4,649.3 L474.4,652.3 Z" fill="#111"/>
<path d="M471.4,656.9 L474.4,653.9 L477.4,656.9 L474.4,659.9 Z" fill="#111"/>
<line x1="467.3" y1="649.3" x2="484" y2="649.3" stroke="#1a1a1a" stroke-width="1.3"/>
<text x="477.9" y="624.8" font-size="8" font-weight="normal" text-anchor="middle" fill="#111" stroke="#111" stroke-width="0.3">0.3%**</text>
<text x="360.3" y="677.2" font-size="9.7" font-weight="bold" text-anchor="middle" fill="#111" stroke="#111" stroke-width="0.1">0</text>
<text x="385.8" y="678.6" font-size="9.7" font-weight="bold" text-anchor="middle" fill="#111" stroke="#111" stroke-width="0.1">1</text>
<text x="418.6" y="678.6" font-size="9.7" font-weight="bold" text-anchor="middle" fill="#111" stroke="#111" stroke-width="0.1">4</text>
<text x="445.2" y="678.6" font-size="9.7" font-weight="bold" text-anchor="middle" fill="#111" stroke="#111" stroke-width="0.1">24</text>
<text x="472.8" y="677.2" font-size="9.7" font-weight="bold" text-anchor="middle" fill="#111" stroke="#111" stroke-width="0.1">48</text>
<text x="422.9" y="700.0" font-size="10.0" font-weight="normal" text-anchor="middle" fill="#111" stroke="#111" stroke-width="0.35">Hours of culture</text>
</svg>
</body></html>
